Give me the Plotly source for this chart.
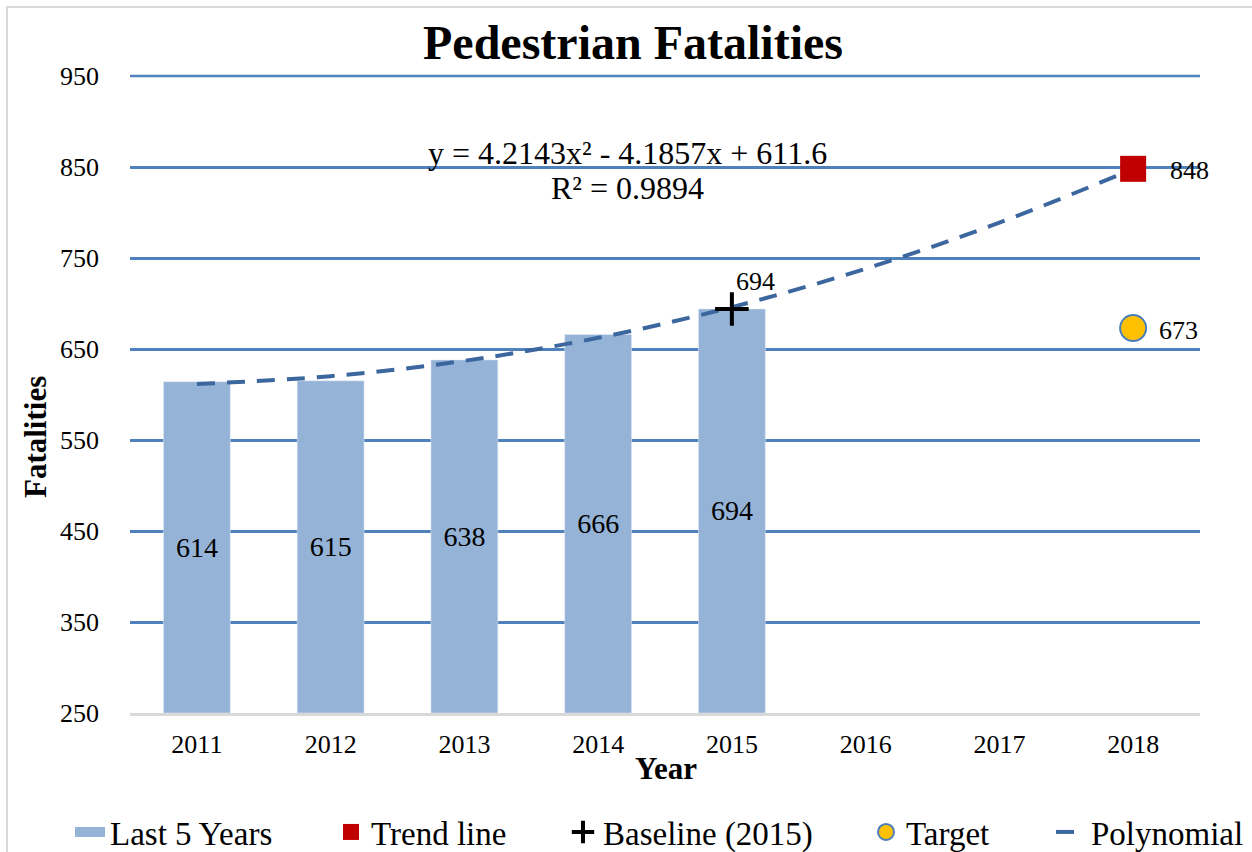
import plotly.graph_objects as go

years = ["2011", "2012", "2013", "2014", "2015", "2016", "2017", "2018"]
bar_years = ["2011", "2012", "2013", "2014", "2015"]
fatalities = [614, 615, 638, 666, 694]
poly_values = [611.6, 620.1, 637.0, 662.3, 696.0, 738.2, 788.8, 847.8]
trend_year = ["2018"]
trend_value = [848]
baseline_year = ["2015"]
baseline_value = [694]
target_year = ["2018"]
target_value = [673]
y_ticks = [250, 350, 450, 550, 650, 750, 850, 950]

FONT = "Liberation Serif, Times New Roman, serif"
L, R, T, B = 130, 52, 76, 139
W, H = 1252, 852
PW, PH = W - L - R, H - T - B
Y_MIN, Y_MAX = y_ticks[0], y_ticks[-1]


def px_x(px):
    return (px - L) / PW


def px_y(py):
    return (H - B - py) / PH


fig = go.Figure()

fig.add_trace(go.Bar(
    x=bar_years, y=[v - Y_MIN for v in fatalities], base=Y_MIN,
    marker_color="#95b3d7", width=0.5,
    text=[str(v) for v in fatalities], textposition="inside",
    insidetextanchor="middle", textfont=dict(size=28, color="black", family=FONT),
    showlegend=False, name="Last 5 Years",
))
# legend stand-in for bars (wide swatch)
fig.add_trace(go.Scatter(
    x=[None], y=[None], mode="lines", name="Last 5 Years",
    line=dict(color="#95b3d7", width=18), legend="legend",
))
fig.add_trace(go.Scatter(
    x=years, y=poly_values, mode="lines", name="Polynomial",
    line=dict(color="#3c679e", width=4, dash="18px,12px", shape="spline"),
    legend="legend5",
))
fig.add_trace(go.Scatter(
    x=trend_year, y=trend_value, mode="markers", name="Trend line",
    marker=dict(symbol="square", size=26, color="#c00000"), legend="legend2",
))
fig.add_trace(go.Scatter(
    x=baseline_year, y=baseline_value, mode="markers", name="Baseline (2015)",
    marker=dict(symbol="cross-thin", size=24, color="black",
                line=dict(width=4, color="black")), legend="legend3",
))
fig.add_trace(go.Scatter(
    x=target_year, y=target_value, mode="markers", name="Target",
    marker=dict(symbol="circle", size=26, color="#ffc000",
                line=dict(width=2, color="#4a7ebb")), legend="legend4",
))

annotations = [
    dict(x=years.index(baseline_year[0]), y=baseline_value[0], text=str(baseline_value[0]),
         xanchor="left", yanchor="middle", xshift=2, yshift=27),
    dict(x=years.index(trend_year[0]), y=trend_value[0], text=str(trend_value[0]),
         xanchor="left", yanchor="middle", xshift=35, yshift=-2),
    dict(x=years.index(target_year[0]), y=target_value[0], text=str(target_value[0]),
         xanchor="left", yanchor="middle", xshift=24, yshift=-2),
]
for a in annotations:
    a.update(xref="x", yref="y", showarrow=False,
             font=dict(size=26, color="black", family=FONT))
    fig.add_annotation(**a)

fig.add_annotation(x=px_x(627), y=px_y(153), xref="paper", yref="paper",
                   text="y = 4.2143x² - 4.1857x + 611.6", showarrow=False,
                   font=dict(size=32, color="black", family=FONT),
                   xanchor="center", yanchor="middle")
fig.add_annotation(x=px_x(627), y=px_y(188), xref="paper", yref="paper",
                   text="R² = 0.9894", showarrow=False,
                   font=dict(size=32, color="black", family=FONT),
                   xanchor="center", yanchor="middle")
fig.add_annotation(x=px_x(666), y=px_y(768), xref="paper", yref="paper",
                   text="<b>Year</b>", showarrow=False,
                   font=dict(size=31, color="black", family=FONT),
                   xanchor="center", yanchor="middle")
fig.add_annotation(x=px_x(35), y=px_y(437), xref="paper", yref="paper",
                   text="<b>Fatalities</b>", showarrow=False, textangle=-90,
                   font=dict(size=31, color="black", family=FONT),
                   xanchor="center", yanchor="middle")

# top gridline at the range edge (paper coords so it is not clipped)
fig.add_shape(type="line", xref="paper", yref="paper", x0=0, x1=1, y0=1, y1=1,
              line=dict(color="#4f81bd", width=2.5), layer="below")
# chart area border
fig.add_shape(type="rect", xref="paper", yref="paper",
              x0=px_x(7), x1=px_x(1262), y0=px_y(862), y1=px_y(7),
              line=dict(color="#d9d9d9", width=2), fillcolor="rgba(0,0,0,0)",
              layer="below")

leg_common = dict(orientation="h", yanchor="middle", y=1 - 832 / H, xanchor="left",
                  xref="container", yref="container",
                  bgcolor="rgba(0,0,0,0)", font=dict(size=33, color="black", family=FONT),
                  itemsizing="trace")
text_lefts = [112, 373, 605, 908, 1093]

fig.update_layout(
    width=W, height=H,
    margin=dict(l=L, r=R, t=T, b=B, pad=0),
    paper_bgcolor="white", plot_bgcolor="white",
    font=dict(family=FONT, color="black"),
    title=dict(text="<b>Pedestrian Fatalities</b>", x=633 / W, xref="container",
               xanchor="center", y=1 - 42 / H, yref="container", yanchor="middle",
               font=dict(size=48, color="black", family=FONT)),
    xaxis=dict(type="category", categoryorder="array", categoryarray=years,
               range=[-0.5, 7.5], showline=True, linecolor="#d9d9d9", linewidth=2.5,
               showgrid=False, ticks="", tickfont=dict(size=26, family=FONT, color="black"),
               ticklabelstandoff=6),
    yaxis=dict(range=[Y_MIN, Y_MAX], tickvals=y_ticks, showgrid=True, gridcolor="#4f81bd",
               gridwidth=2.5, zeroline=False, showline=False, ticks="",
               tickfont=dict(size=26, family=FONT, color="black"),
               ticklabelstandoff=30),
    legend=dict(**leg_common, x=(text_lefts[0] - 42) / W),
    legend2=dict(**leg_common, x=(text_lefts[1] - 42) / W),
    legend3=dict(**leg_common, x=(text_lefts[2] - 42) / W),
    legend4=dict(**leg_common, x=(text_lefts[3] - 42) / W),
    legend5=dict(**leg_common, x=(text_lefts[4] - 42) / W),
)

fig.write_html("out.html", config={"displayModeBar": False},
               post_script="document.body.style.margin='0';document.body.style.overflow='hidden';")
